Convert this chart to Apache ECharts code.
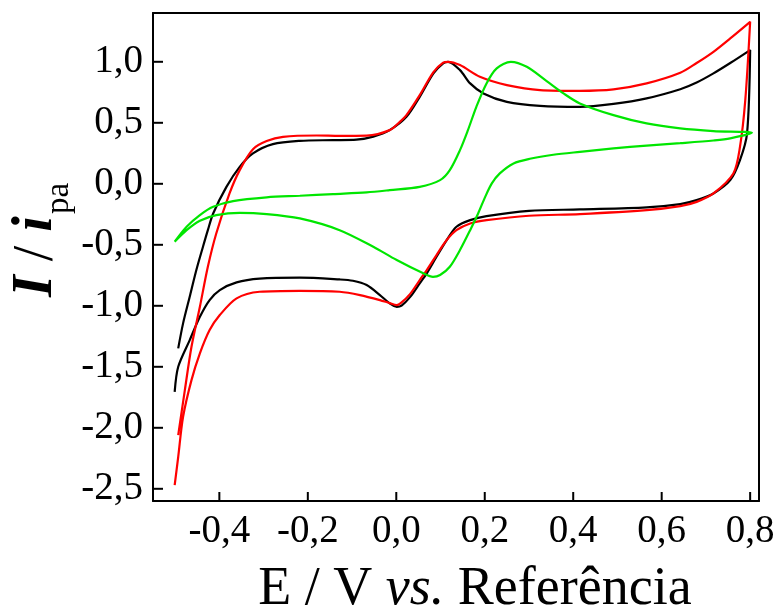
<!DOCTYPE html>
<html>
<head>
<meta charset="utf-8">
<script src="https://cdn.jsdelivr.net/npm/echarts@6/dist/echarts.min.js"></script>
<style>
html,body{margin:0;padding:0;background:#fff;}
#chart{width:777px;height:607px;}
</style>
</head>
<body>
<div id="chart"></div>
<script>
// Tick values
const xTicks = [-0.4, -0.2, 0.0, 0.2, 0.4, 0.6, 0.8];
const yTicks = [-2.5, -2.0, -1.5, -1.0, -0.5, 0.0, 0.5, 1.0];

// Black curve [E, I/ipa]
const blackCV = [
  [-0.493,-1.349],[-0.482,-1.144],[-0.467,-0.926],[-0.452,-0.707],[-0.437,-0.516],[-0.426,-0.380],
  [-0.414,-0.243],[-0.384,-0.025],[-0.354,0.139],[-0.324,0.249],[-0.279,0.325],[-0.218,0.352],
  [-0.143,0.358],[-0.090,0.362],[-0.052,0.387],[-0.015,0.440],[0.023,0.549],[0.053,0.713],
  [0.084,0.905],[0.106,0.987],[0.117,1.000],[0.144,0.932],[0.167,0.823],[0.197,0.741],
  [0.250,0.672],[0.325,0.639],[0.415,0.631],[0.491,0.655],[0.566,0.700],[0.642,0.775],
  [0.679,0.830],[0.717,0.905],[0.755,0.990],[0.800,1.096],
  [0.793,0.413],[0.777,0.194],[0.755,0.030],[0.717,-0.079],[0.679,-0.134],[0.642,-0.166],
  [0.566,-0.193],[0.415,-0.210],[0.300,-0.222],[0.204,-0.265],[0.167,-0.298],[0.136,-0.352],
  [0.114,-0.461],[0.091,-0.598],[0.069,-0.734],[0.053,-0.816],[0.031,-0.929],[0.012,-0.998],
  [0.001,-1.008],[-0.015,-0.980],[-0.037,-0.912],[-0.067,-0.830],[-0.098,-0.795],[-0.128,-0.784],
  [-0.218,-0.769],[-0.309,-0.777],[-0.361,-0.808],[-0.399,-0.871],[-0.422,-0.953],[-0.444,-1.090],
  [-0.467,-1.281],[-0.493,-1.500],[-0.501,-1.705]
];

// Red curve [E, I/ipa]
const redCV = [
  [-0.493,-2.060],[-0.478,-1.691],[-0.463,-1.336],[-0.444,-1.008],[-0.426,-0.680],[-0.407,-0.407],
  [-0.377,-0.079],[-0.354,0.112],[-0.324,0.284],[-0.293,0.350],[-0.256,0.385],[-0.180,0.396],
  [-0.128,0.393],[-0.067,0.395],[-0.015,0.440],[0.008,0.508],[0.023,0.563],[0.053,0.727],
  [0.084,0.916],[0.106,0.993],[0.117,1.000],[0.144,0.973],[0.189,0.877],[0.250,0.809],
  [0.325,0.768],[0.415,0.762],[0.491,0.774],[0.566,0.823],[0.642,0.910],[0.679,0.990],
  [0.717,1.082],[0.755,1.192],[0.800,1.328],
  [0.789,0.686],[0.777,0.303],[0.762,0.085],[0.717,-0.079],[0.679,-0.148],[0.642,-0.183],
  [0.566,-0.216],[0.415,-0.248],[0.300,-0.262],[0.204,-0.298],[0.167,-0.325],[0.136,-0.380],
  [0.114,-0.461],[0.091,-0.584],[0.069,-0.707],[0.053,-0.789],[0.031,-0.904],[0.010,-0.978],
  [0.001,-0.994],[-0.015,-0.978],[-0.037,-0.953],[-0.082,-0.912],[-0.128,-0.885],[-0.218,-0.877],
  [-0.309,-0.885],[-0.361,-0.939],[-0.399,-1.076],[-0.422,-1.199],[-0.444,-1.390],[-0.463,-1.609],
  [-0.482,-1.910],[-0.493,-2.238],[-0.501,-2.470]
];

// Green curve [E, I/ipa]
const greenCV = [
  [-0.501,-0.475],[-0.474,-0.352],[-0.444,-0.257],[-0.414,-0.189],[-0.369,-0.142],[-0.293,-0.111],
  [-0.218,-0.098],[-0.143,-0.084],[-0.067,-0.070],[-0.015,-0.052],[0.053,-0.025],[0.099,0.030],
  [0.121,0.112],[0.144,0.276],[0.162,0.440],[0.181,0.631],[0.204,0.823],[0.227,0.946],
  [0.259,1.000],[0.295,0.959],[0.340,0.842],[0.378,0.741],[0.415,0.659],[0.491,0.563],
  [0.566,0.495],[0.642,0.454],[0.717,0.432],[0.804,0.418],
  [0.755,0.372],[0.717,0.355],[0.642,0.333],[0.566,0.313],[0.491,0.290],[0.415,0.262],
  [0.355,0.238],[0.302,0.205],
  [0.265,0.167],[0.234,0.085],[0.216,0.003],[0.201,-0.107],[0.185,-0.243],[0.167,-0.380],
  [0.144,-0.543],[0.121,-0.680],[0.099,-0.748],[0.083,-0.763],[0.061,-0.734],[0.001,-0.625],
  [-0.052,-0.516],[-0.128,-0.380],[-0.218,-0.284],[-0.293,-0.248],[-0.354,-0.238],[-0.407,-0.257],
  [-0.444,-0.303],[-0.474,-0.380],[-0.501,-0.475]
];

const FONT = 'Liberation Serif';
const X_MIN = -0.55, X_MAX = 0.82, Y_MIN = -2.6, Y_MAX = 1.4;
const fmt = v => (Math.round(v * 10) / 10).toFixed(1).replace('.', ',');

const chart = echarts.init(document.getElementById('chart'));
const mk = (name, data, color) => ({
  name, type: 'line', data, showSymbol: false, smooth: 0.3,
  lineStyle: { color, width: 2.2 }, itemStyle: { color }, clip: true, animation: false
});
const frameAxis = (pos, min, max) => ({
  type: 'value', position: pos, min, max,
  axisLine: { show: true, onZero: false, lineStyle: { color: '#000', width: 2 } },
  axisTick: { show: false }, axisLabel: { show: false }, splitLine: { show: false }
});

const titleGraphics = [
  {
    type: 'text', x: 37, y: 297, rotation: Math.PI / 2,
    style: {
      text: '{b|I}{n| / }{b|i}', align: 'left', verticalAlign: 'middle',
      rich: {
        b: { fontFamily: FONT, fontSize: 56, fontWeight: 'bold', fontStyle: 'italic', fill: '#000' },
        n: { fontFamily: FONT, fontSize: 56, fill: '#000' }
      }
    }
  },
  {
    type: 'text', x: 59, y: 214, rotation: Math.PI / 2,
    style: { text: 'pa', align: 'left', verticalAlign: 'middle', fontFamily: FONT, fontSize: 33, fill: '#000' }
  }
];

chart.setOption({
  animation: false,
  backgroundColor: '#fff',
  grid: { left: 153, right: 18, top: 13, bottom: 106, show: false,
          containLabel: false, outerBoundsMode: 'none' },
  xAxis: [{
    type: 'value', position: 'bottom', min: X_MIN, max: X_MAX,
    axisLine: { show: true, onZero: false, lineStyle: { color: '#000', width: 2 } },
    splitLine: { show: false },
    axisTick: { show: false },
    axisLabel: { show: true, customValues: xTicks, formatter: fmt, fontFamily: FONT, fontSize: 39, color: '#000', margin: 11 },
    name: '{n|E / V }{i|vs.}{n| Referência}',
    nameLocation: 'middle', nameGap: 62,
    nameTextStyle: {
      padding: [0, 0, 0, 38],
      rich: {
        n: { fontFamily: FONT, fontSize: 54, color: '#000' },
        i: { fontFamily: FONT, fontSize: 54, fontStyle: 'italic', color: '#000' }
      }
    }
  }, frameAxis('top', X_MIN, X_MAX)],
  yAxis: [{
    type: 'value', position: 'left', min: Y_MIN, max: Y_MAX,
    axisLine: { show: true, onZero: false, lineStyle: { color: '#000', width: 2 } },
    splitLine: { show: false },
    axisTick: { show: false },
    axisLabel: { show: true, customValues: yTicks, formatter: fmt, fontFamily: FONT, fontSize: 39, color: '#000', margin: 10 }
  }, frameAxis('right', Y_MIN, Y_MAX)],
  graphic: titleGraphics,
  series: [
    mk('black', blackCV, '#000000'),
    mk('red', redCV, '#ff0000'),
    mk('green', greenCV, '#00e600')
  ]
});

// Inward tick marks, positioned through the chart's own axis scales
const tickGraphics = [];
xTicks.forEach(v => {
  const p = chart.convertToPixel({ xAxisIndex: 0, yAxisIndex: 0 }, [v, Y_MIN]);
  tickGraphics.push({ type: 'line', z: 100, silent: true,
    shape: { x1: p[0], y1: p[1], x2: p[0], y2: p[1] - 9 }, style: { stroke: '#000', lineWidth: 2 } });
});
yTicks.forEach(v => {
  const p = chart.convertToPixel({ xAxisIndex: 0, yAxisIndex: 0 }, [X_MIN, v]);
  tickGraphics.push({ type: 'line', z: 100, silent: true,
    shape: { x1: p[0], y1: p[1], x2: p[0] + 10, y2: p[1] }, style: { stroke: '#000', lineWidth: 2 } });
});
chart.setOption({ graphic: titleGraphics.concat(tickGraphics) });
</script>
</body>
</html>
